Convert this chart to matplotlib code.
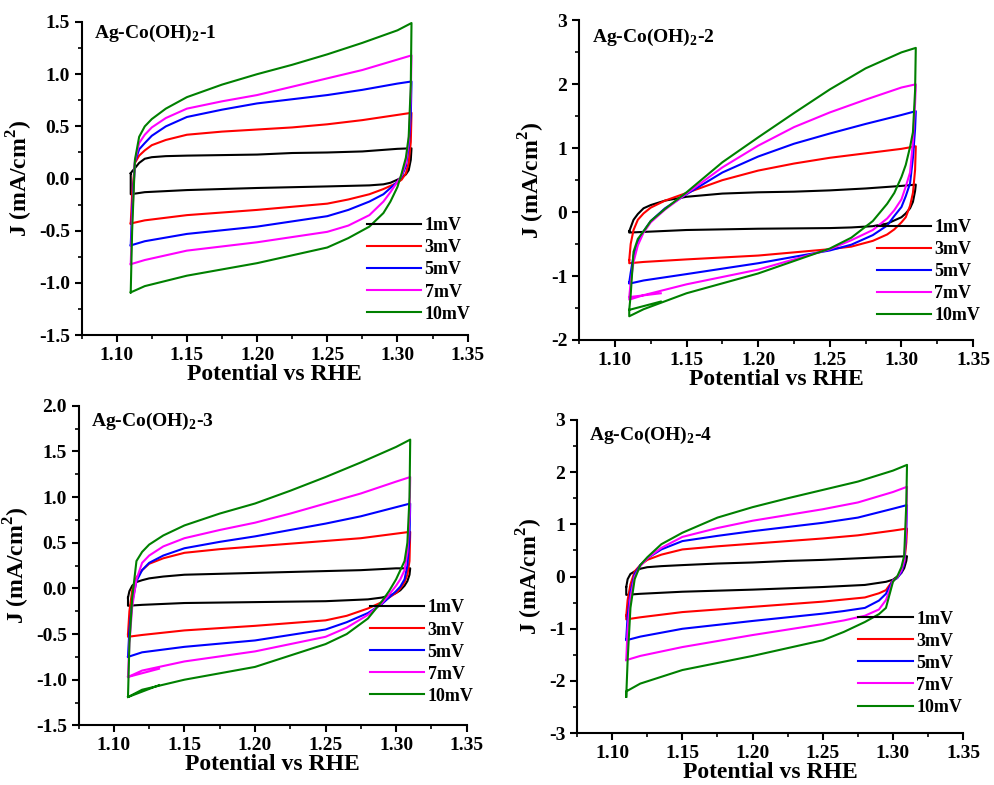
import matplotlib
matplotlib.use('Agg')
import matplotlib.pyplot as plt
from matplotlib.ticker import MultipleLocator, AutoMinorLocator, FormatStrFormatter

matplotlib.rcParams['font.family'] = 'serif'
matplotlib.rcParams['font.serif'] = ['Liberation Serif', 'DejaVu Serif']
matplotlib.rcParams['font.weight'] = 'bold'
matplotlib.rcParams['mathtext.fontset'] = 'custom'
matplotlib.rcParams['mathtext.rm'] = 'Liberation Serif:bold'
matplotlib.rcParams['mathtext.bf'] = 'Liberation Serif:bold'
matplotlib.rcParams['axes.unicode_minus'] = False
matplotlib.rcParams['axes.linewidth'] = 1.5

# scan grid: anodic sweep 1.11 -> 1.31 V, cathodic sweep back to 1.11 V
E_an = [1.11, 1.111, 1.113, 1.116, 1.12, 1.125, 1.135, 1.15, 1.175, 1.20, 1.225, 1.25, 1.275, 1.30, 1.31]
E_ca = [1.31, 1.3095, 1.308, 1.306, 1.303, 1.30, 1.295, 1.29, 1.28, 1.265, 1.25, 1.20, 1.15, 1.12, 1.11]
E_stub = 1.132

rates = ['1mV', '3mV', '5mV', '7mV', '10mV']
colors = ['#000000', '#ff0000', '#0000ff', '#ff00ff', '#008000']

# Ag-Co(OH)2-1   rows: 1, 3, 5, 7, 10 mV
p1_an = [
    [0.05, 0.07, 0.10, 0.15, 0.19, 0.205, 0.215, 0.22, 0.225, 0.23, 0.245, 0.25, 0.26, 0.285, 0.29],
    [-0.43, -0.15, 0.15, 0.22, 0.27, 0.32, 0.37, 0.42, 0.45, 0.47, 0.49, 0.52, 0.56, 0.61, 0.63],
    [-0.64, -0.30, 0.16, 0.28, 0.34, 0.41, 0.50, 0.59, 0.66, 0.72, 0.76, 0.80, 0.85, 0.91, 0.93],
    [-0.82, -0.40, 0.17, 0.34, 0.42, 0.49, 0.58, 0.67, 0.74, 0.80, 0.88, 0.96, 1.04, 1.14, 1.18],
    [-1.09, -0.50, 0.18, 0.40, 0.50, 0.57, 0.67, 0.78, 0.90, 1.00, 1.09, 1.19, 1.30, 1.42, 1.49],
]
p1_ca = [
    [0.29, 0.18, 0.08, 0.04, 0.01, -0.01, -0.04, -0.055, -0.065, -0.07, -0.075, -0.09, -0.11, -0.13, -0.15],
    [0.63, 0.35, 0.15, 0.05, -0.01, -0.04, -0.07, -0.10, -0.15, -0.20, -0.24, -0.30, -0.35, -0.40, -0.43],
    [0.93, 0.60, 0.30, 0.12, 0.02, -0.03, -0.09, -0.15, -0.22, -0.30, -0.36, -0.46, -0.53, -0.60, -0.64],
    [1.18, 0.80, 0.35, 0.15, 0.03, -0.03, -0.13, -0.22, -0.35, -0.45, -0.51, -0.61, -0.69, -0.78, -0.82],
    [1.49, 0.90, 0.40, 0.20, 0.05, -0.08, -0.22, -0.33, -0.46, -0.57, -0.66, -0.81, -0.93, -1.03, -1.09],
]

# Ag-Co(OH)2-2
p2_an = [
    [-0.30, -0.24, -0.12, -0.03, 0.06, 0.11, 0.18, 0.24, 0.29, 0.31, 0.32, 0.34, 0.37, 0.41, 0.43],
    [-0.75, -0.50, -0.28, -0.12, -0.02, 0.07, 0.18, 0.30, 0.50, 0.65, 0.76, 0.85, 0.92, 0.99, 1.03],
    [-1.10, -0.95, -0.68, -0.46, -0.30, -0.14, 0.06, 0.28, 0.62, 0.87, 1.07, 1.23, 1.38, 1.52, 1.58],
    [-1.33, -1.10, -0.78, -0.52, -0.32, -0.16, 0.04, 0.29, 0.70, 1.04, 1.33, 1.56, 1.76, 1.95, 2.00],
    [-1.53, -1.30, -0.62, -0.42, -0.30, -0.14, 0.05, 0.31, 0.78, 1.17, 1.55, 1.92, 2.25, 2.50, 2.57],
]
p2_ca = [
    [0.43, 0.33, 0.16, 0.06, -0.02, -0.08, -0.13, -0.18, -0.22, -0.24, -0.25, -0.26, -0.28, -0.31, -0.32],
    [1.03, 0.66, 0.30, 0.10, -0.08, -0.16, -0.27, -0.35, -0.45, -0.54, -0.58, -0.68, -0.74, -0.78, -0.80],
    [1.57, 1.30, 0.85, 0.45, 0.25, 0.08, -0.06, -0.21, -0.36, -0.51, -0.60, -0.80, -0.97, -1.07, -1.12],
    [2.00, 1.70, 1.10, 0.62, 0.40, 0.20, 0.03, -0.10, -0.28, -0.44, -0.58, -0.90, -1.13, -1.30, -1.37],
    [2.57, 1.90, 1.25, 1.02, 0.74, 0.55, 0.30, 0.13, -0.14, -0.40, -0.57, -0.96, -1.27, -1.52, -1.63],
]
p2_stub = [None, None, None, -1.27, -1.40]

# Ag-Co(OH)2-3
p3_an = [
    [-0.10, -0.03, 0.03, 0.07, 0.09, 0.11, 0.13, 0.15, 0.16, 0.17, 0.18, 0.19, 0.20, 0.22, 0.22],
    [-0.50, -0.25, -0.02, 0.12, 0.20, 0.27, 0.33, 0.39, 0.43, 0.46, 0.49, 0.52, 0.55, 0.60, 0.62],
    [-0.75, -0.45, -0.15, 0.08, 0.20, 0.28, 0.36, 0.44, 0.51, 0.57, 0.64, 0.71, 0.79, 0.89, 0.93],
    [-0.97, -0.60, -0.20, 0.10, 0.28, 0.36, 0.46, 0.55, 0.64, 0.72, 0.82, 0.93, 1.04, 1.17, 1.22],
    [-1.19, -0.60, -0.10, 0.30, 0.40, 0.48, 0.58, 0.69, 0.82, 0.93, 1.07, 1.22, 1.38, 1.55, 1.63],
]
p3_ca = [
    [0.22, 0.15, 0.08, 0.03, -0.02, -0.05, -0.08, -0.10, -0.12, -0.13, -0.14, -0.15, -0.16, -0.18, -0.19],
    [0.62, 0.30, 0.15, 0.07, 0.00, -0.05, -0.10, -0.15, -0.22, -0.30, -0.35, -0.41, -0.46, -0.51, -0.53],
    [0.93, 0.55, 0.25, 0.10, 0.02, -0.03, -0.10, -0.17, -0.27, -0.37, -0.45, -0.57, -0.64, -0.70, -0.75],
    [1.22, 0.80, 0.40, 0.20, 0.10, 0.03, -0.07, -0.16, -0.29, -0.43, -0.53, -0.69, -0.80, -0.90, -0.97],
    [1.63, 1.00, 0.50, 0.30, 0.20, 0.10, -0.03, -0.14, -0.33, -0.50, -0.61, -0.86, -1.00, -1.11, -1.19],
]
p3_stub = [None, None, None, -0.88, -1.06]

# Ag-Co(OH)2-4
p4_an = [
    [-0.20, -0.05, 0.05, 0.10, 0.15, 0.18, 0.20, 0.22, 0.25, 0.27, 0.30, 0.32, 0.35, 0.38, 0.39],
    [-0.75, -0.45, -0.15, 0.10, 0.22, 0.32, 0.42, 0.52, 0.58, 0.63, 0.68, 0.73, 0.79, 0.88, 0.92],
    [-1.20, -0.75, -0.30, 0.05, 0.22, 0.35, 0.52, 0.68, 0.78, 0.87, 0.95, 1.03, 1.13, 1.30, 1.37],
    [-1.60, -1.00, -0.40, 0.00, 0.20, 0.35, 0.55, 0.76, 0.93, 1.07, 1.18, 1.29, 1.42, 1.62, 1.72],
    [-2.30, -1.60, -0.60, -0.05, 0.22, 0.37, 0.62, 0.84, 1.13, 1.33, 1.50, 1.66, 1.82, 2.03, 2.14],
]
p4_ca = [
    [0.39, 0.30, 0.16, 0.07, 0.00, -0.06, -0.10, -0.12, -0.16, -0.18, -0.20, -0.25, -0.29, -0.33, -0.35],
    [0.92, 0.65, 0.25, 0.08, -0.02, -0.07, -0.26, -0.32, -0.40, -0.44, -0.48, -0.58, -0.68, -0.78, -0.82],
    [1.37, 0.90, 0.25, 0.08, -0.03, -0.07, -0.33, -0.46, -0.60, -0.66, -0.71, -0.85, -1.00, -1.15, -1.22],
    [1.72, 1.00, 0.30, 0.12, -0.02, -0.08, -0.45, -0.63, -0.75, -0.84, -0.91, -1.12, -1.35, -1.52, -1.60],
    [2.14, 1.40, 0.40, 0.18, 0.00, -0.10, -0.60, -0.72, -0.87, -1.06, -1.22, -1.52, -1.79, -2.05, -2.20],
]

titles = [r'Ag-Co(OH)$_\mathbf{2}$-1', r'Ag-Co(OH)$_\mathbf{2}$-2',
          r'Ag-Co(OH)$_\mathbf{2}$-3', r'Ag-Co(OH)$_\mathbf{2}$-4']

panels = [
    # anodic, cathodic, start stub, ylim, major step, axes rect, title y, legend anchor
    (p1_an, p1_ca, None, (-1.5, 1.5), 0.5, [0.082, 0.573, 0.388, 0.399], 0.965, (1.04, 0.0)),
    (p2_an, p2_ca, p2_stub, (-2, 3), 1, [0.582, 0.567, 0.396, 0.407], 0.947, (1.05, 0.01)),
    (p3_an, p3_ca, p3_stub, (-1.5, 2.0), 0.5, [0.079, 0.076, 0.390, 0.407], 0.950, (1.05, 0.025)),
    (p4_an, p4_ca, None, (-3, 3), 1, [0.580, 0.066, 0.388, 0.399], 0.952, (1.03, 0.015)),
]

fig = plt.figure(figsize=(9.95, 7.85), dpi=100)

for k, (an, ca, stub, ylim, major, rect, ty, lpos) in enumerate(panels):
    ax = fig.add_axes(rect)
    for i in range(len(rates)):
        xs = list(E_an) + list(E_ca) + [E_an[0]]
        ys = list(an[i]) + list(ca[i]) + [an[i][0]]
        if stub is not None and stub[i] is not None:
            xs = [E_stub] + xs
            ys = [stub[i]] + ys
        ax.plot(xs, ys, color=colors[i], lw=1.5, label=rates[i])

    ax.set_xlim(1.075, 1.35)
    ax.set_ylim(*ylim)
    ax.xaxis.set_major_locator(MultipleLocator(0.05))
    ax.xaxis.set_minor_locator(MultipleLocator(0.025))
    ax.yaxis.set_major_locator(MultipleLocator(major))
    ax.yaxis.set_minor_locator(AutoMinorLocator(2))
    ax.yaxis.set_major_formatter(FormatStrFormatter('%.1f' if major == 0.5 else '%d'))
    ax.xaxis.set_major_formatter(FormatStrFormatter('%.2f'))

    ax.spines['top'].set_visible(False)
    ax.spines['right'].set_visible(False)
    ax.tick_params(which='major', direction='out', length=5, width=1.5, labelsize=14)
    ax.tick_params(which='minor', direction='out', length=3, width=1.2)

    ax.set_xlabel('Potential vs RHE', fontsize=17, fontweight='bold', labelpad=0)
    ax.set_ylabel(r'J (mA/cm$^\mathbf{2}$)', fontsize=17, fontweight='bold', labelpad=3)

    ax.text(0.032, ty, titles[k], transform=ax.transAxes, fontsize=14,
            fontweight='bold', ha='left', va='center')

    ax.legend(loc='lower right', bbox_to_anchor=lpos, frameon=False, fontsize=13,
              handlelength=3.0, handletextpad=0.2, labelspacing=0.28, borderpad=0.2)

plt.savefig('out.png', dpi=100, facecolor='white')
plt.close()
